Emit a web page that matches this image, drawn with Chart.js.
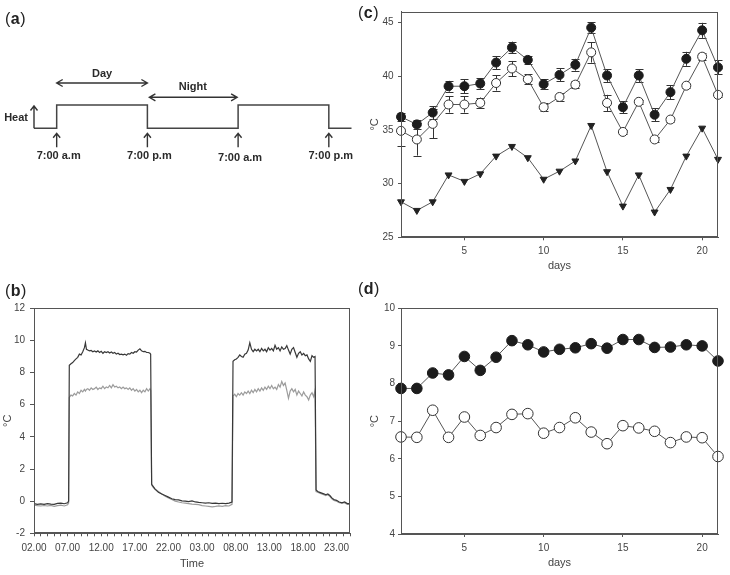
<!DOCTYPE html>
<html>
<head>
<meta charset="utf-8">
<script src="https://cdn.jsdelivr.net/npm/chart.js@4.4.1/dist/chart.umd.min.js"></script>
<style>
html,body{margin:0;padding:0;background:#fff;}
body{width:730px;height:575px;position:relative;overflow:hidden;}
canvas{position:absolute;display:block;}
</style>
</head>
<body>
<canvas id="chartA" width="360" height="180" style="left:0;top:0"></canvas>
<canvas id="chartB" width="360" height="295" style="left:0;top:280px"></canvas>
<canvas id="chartC" width="375" height="280" style="left:355px;top:0"></canvas>
<canvas id="chartD" width="375" height="295" style="left:355px;top:280px"></canvas>
<script>
// ================= DATA =================
// (a) schematic heating cycle
const schematicHours = [4, 7, 7, 19, 19, 31, 31, 43, 43, 46];
const schematicHeat  = [0, 0, 1, 1, 0, 0, 1, 1, 0, 0];
const switchHours  = [7, 19, 31, 43];
const switchLabels = ['7:00 a.m', '7:00 p.m', '7:00 a.m', '7:00 p.m'];
const periodLabels = ['Day', 'Night'];
const heatLabel = 'Heat';

// (b) temperature difference over time (hours since 02.00)
const timeTickLabels = ['02.00','07.00','12.00','17.00','22.00','03.00','08.00','13.00','18.00','23.00'];
const yTicksB = [-2, 0, 2, 4, 6, 8, 10, 12];
const hoursB = [0,0.5,1,1.5,2,2.5,3,3.5,4,4.5,5,5.15,
  5.25,5.5,5.75,6,6.25,6.5,6.75,7,7.25,7.5,7.65,7.8,8,8.25,8.5,8.75,9,9.25,9.5,9.75,10,10.25,10.5,10.75,11,11.25,11.5,11.75,12,12.25,12.5,12.75,13,13.25,13.5,13.75,14,14.25,14.5,14.75,15,15.25,15.5,15.75,16,16.25,16.5,16.75,17,17.25,17.35,
  17.5,17.75,18,18.5,19,19.5,20,20.5,21,21.5,22,22.5,23,23.5,24,24.5,25,25.5,26,26.5,27,27.5,28,28.5,29,29.45,
  29.6,29.85,30.1,30.35,30.6,30.85,31.1,31.35,31.6,31.85,32.1,32.35,32.6,32.85,33.1,33.35,33.6,33.85,34.1,34.35,34.6,34.85,35.1,35.35,35.6,35.85,36.1,36.35,36.6,36.85,37.1,37.35,37.6,37.85,38.1,38.35,38.6,38.85,39.1,39.35,39.6,39.85,40.1,40.35,40.6,40.85,41.1,41.35,41.6,41.8,
  41.95,42.2,42.5,42.8,43.1,43.4,43.7,44,44.3,44.6,45,45.4,45.8,46.2,46.6,47];
const darkB = [-0.15,-0.2,-0.17,-0.2,-0.15,-0.18,-0.2,-0.14,-0.12,-0.16,-0.1,0.0,
  8.45,8.55,8.62,8.75,8.85,8.95,9.15,9.1,9.3,9.55,9.85,9.45,9.4,9.35,9.38,9.3,9.35,9.28,9.35,9.25,9.32,9.2,9.3,9.25,9.3,9.22,9.28,9.2,9.25,9.15,9.2,9.12,9.15,9.1,9.15,9.08,9.18,9.15,9.25,9.2,9.3,9.28,9.4,9.48,9.35,9.3,9.32,9.25,9.25,9.2,9.15,
  1.05,0.9,0.75,0.55,0.45,0.35,0.25,0.15,0.1,0.08,0.02,0.0,-0.03,0.02,-0.05,-0.08,-0.1,-0.12,-0.1,-0.14,-0.12,-0.15,-0.13,-0.15,-0.12,-0.05,
  8.7,8.8,8.85,8.95,9.1,9.0,8.95,9.15,9.2,9.4,9.85,9.45,9.3,9.45,9.35,9.45,9.3,9.5,9.35,9.45,9.3,9.55,9.4,9.5,9.35,9.7,9.45,9.55,9.35,9.6,9.45,9.5,9.68,9.4,9.15,9.45,9.55,9.25,8.95,9.2,9.3,9.1,9.2,9.05,9.1,8.85,8.7,9.05,8.95,9.0,
  0.7,0.6,0.55,0.5,0.45,0.4,0.45,0.35,0.2,0.1,0.05,-0.05,-0.1,-0.05,-0.15,-0.15];
const grayB = [-0.25,-0.28,-0.3,-0.27,-0.3,-0.26,-0.32,-0.28,-0.25,-0.3,-0.22,-0.12,
  6.45,6.6,6.55,6.7,6.6,6.8,6.7,6.9,6.8,6.95,6.85,6.95,7.0,6.9,7.05,6.95,7.0,7.1,6.95,7.05,7.0,7.15,7.0,7.1,7.05,7.2,7.05,7.25,7.1,7.15,7.05,7.1,7.0,7.1,7.0,7.05,6.95,7.05,6.9,7.0,6.85,6.95,6.8,6.9,6.75,6.9,6.8,7.0,6.85,7.0,6.9,
  1.0,0.85,0.75,0.6,0.45,0.3,0.2,0.1,0.0,-0.05,-0.1,-0.12,-0.15,-0.18,-0.2,-0.22,-0.28,-0.3,-0.32,-0.35,-0.33,-0.3,-0.32,-0.28,-0.3,-0.2,
  6.55,6.65,6.5,6.7,6.6,6.75,6.6,6.8,6.7,6.85,6.7,6.9,6.75,6.95,6.8,7.0,6.85,7.05,6.9,7.1,6.95,7.15,7.0,7.2,7.0,7.1,6.95,7.25,7.1,7.45,7.2,7.35,6.9,6.4,6.85,7.0,6.8,6.95,6.6,6.85,6.7,6.55,6.8,6.6,6.5,6.3,6.6,6.75,6.5,6.9,
  0.6,0.55,0.5,0.45,0.4,0.35,0.4,0.3,0.15,0.05,0.0,-0.1,-0.12,-0.1,-0.2,-0.2];

// (c) daily temperatures
const days = [1,2,3,4,5,6,7,8,9,10,11,12,13,14,15,16,17,18,19,20,21];
const dayTicks = [5, 10, 15, 20];
const yTicksC = [25, 30, 35, 40, 45];
const heatFilled    = [36.2,35.5,36.6,39.05,39.05,39.3,41.25,42.65,41.5,39.25,40.1,41.05,44.5,40.05,37.1,40.05,36.4,38.5,41.6,44.25,40.8];
const heatFilledErr = [0.4,0.4,0.6,0.5,0.65,0.5,0.6,0.55,0.4,0.45,0.6,0.55,0.5,0.6,0.55,0.6,0.6,0.65,0.65,0.7,0.65];
const heatOpen      = [34.9,34.1,35.55,37.35,37.35,37.5,39.35,40.7,39.7,37.1,38.05,39.2,42.2,37.5,34.8,37.6,34.1,35.95,39.1,41.8,38.25];
const heatOpenErr   = [1.4,1.5,1.35,0.75,0.75,0.5,0.7,0.7,0.45,0.35,0.35,0.3,0.95,0.75,0.2,0.2,0.2,0.2,0.2,0.3,0.2];
const ambientTemp   = [28.3,27.5,28.3,30.8,30.2,30.9,32.55,33.45,32.4,30.4,31.15,32.1,35.4,31.1,27.9,30.8,27.35,29.45,32.55,35.15,32.25];

// (d) daily temperature differences
const yTicksD = [4, 5, 6, 7, 8, 9, 10];
const diffFilled = [7.87,7.87,8.28,8.23,8.72,8.35,8.70,9.14,9.03,8.84,8.91,8.95,9.06,8.94,9.17,9.17,8.96,8.97,9.03,9.0,8.6];
const diffOpen   = [6.58,6.57,7.29,6.57,7.11,6.62,6.83,7.18,7.2,6.68,6.83,7.09,6.71,6.40,6.88,6.82,6.73,6.43,6.58,6.56,6.06];

// ================= STYLE / PLUGINS =================
const FONT = "'Liberation Sans', Arial, Helvetica, sans-serif";
Chart.defaults.font.family = FONT;
Chart.defaults.color = '#444';
Chart.defaults.animation = false;

const framePlugin = {
  id: 'frame',
  afterDraw(chart, args, opts) {
    if (!opts || !opts.on) return;
    const {ctx, chartArea: a} = chart;
    ctx.save();
    ctx.strokeStyle = '#555';
    ctx.lineWidth = 1;
    const l = Math.round(a.left) + 0.5, t = Math.round(a.top) + 0.5;
    const r = Math.round(a.right) - 0.5, b = Math.round(a.bottom) - 0.5;
    ctx.strokeRect(l, t, r - l, b - t);
    ctx.restore();
  }
};

const panelLabelPlugin = {
  id: 'panelLabel',
  afterDraw(chart, args, opts) {
    if (!opts || !opts.letter) return;
    const ctx = chart.ctx;
    ctx.save();
    ctx.fillStyle = '#222';
    ctx.textBaseline = 'middle';
    ctx.textAlign = 'left';
    let x = opts.x;
    ctx.font = '16px ' + FONT;
    ctx.fillText('(', x, opts.y); x += ctx.measureText('(').width + 0.5;
    ctx.font = 'bold 16px ' + FONT;
    ctx.fillText(opts.letter, x, opts.y); x += ctx.measureText(opts.letter).width + 0.5;
    ctx.font = '16px ' + FONT;
    ctx.fillText(')', x, opts.y);
    ctx.restore();
  }
};

const errorBarPlugin = {
  id: 'errorBars',
  beforeDatasetsDraw(chart) {
    const {ctx, scales: {x, y}} = chart;
    ctx.save();
    ctx.strokeStyle = '#333';
    ctx.lineWidth = 1;
    chart.data.datasets.forEach(ds => {
      if (!ds.errors) return;
      ds.data.forEach((p, i) => {
        const e = ds.errors[i];
        const px = Math.round(x.getPixelForValue(p.x)) + 0.5;
        const y1 = y.getPixelForValue(p.y + e), y2 = y.getPixelForValue(p.y - e);
        ctx.beginPath();
        ctx.moveTo(px, y1); ctx.lineTo(px, y2);
        ctx.moveTo(px - 4, Math.round(y1) + 0.5); ctx.lineTo(px + 4, Math.round(y1) + 0.5);
        ctx.moveTo(px - 4, Math.round(y2) + 0.5); ctx.lineTo(px + 4, Math.round(y2) + 0.5);
        ctx.stroke();
      });
    });
    ctx.restore();
  }
};

function vArrow(ctx, x, yFrom, yTo) {
  ctx.beginPath();
  ctx.moveTo(x, yFrom); ctx.lineTo(x, yTo);
  ctx.moveTo(x - 3.5, yTo + 4.5); ctx.lineTo(x, yTo); ctx.lineTo(x + 3.5, yTo + 4.5);
  ctx.stroke();
}
function hArrow(ctx, x1, x2, yy) {
  ctx.beginPath();
  ctx.moveTo(x1, yy); ctx.lineTo(x2, yy);
  ctx.moveTo(x1 + 6, yy - 3.5); ctx.lineTo(x1, yy); ctx.lineTo(x1 + 6, yy + 3.5);
  ctx.moveTo(x2 - 6, yy - 3.5); ctx.lineTo(x2, yy); ctx.lineTo(x2 - 6, yy + 3.5);
  ctx.stroke();
}

const schematicPlugin = {
  id: 'schematic',
  afterDatasetsDraw(chart) {
    const {ctx, scales: {x, y}} = chart;
    const low = y.getPixelForValue(0), high = y.getPixelForValue(1);
    ctx.save();
    ctx.strokeStyle = '#333';
    ctx.fillStyle = '#2a2a2a';
    ctx.lineWidth = 1.4;
    ctx.font = 'bold 11px ' + FONT;
    ctx.textBaseline = 'middle';
    const x0 = x.getPixelForValue(schematicHours[0]);
    vArrow(ctx, x0, low, high + 1);
    ctx.textAlign = 'right';
    ctx.fillText(heatLabel, x0 - 6, (low + high) / 2 + 1);
    ctx.textAlign = 'center';
    switchHours.forEach((h, i) => {
      const px = x.getPixelForValue(h);
      vArrow(ctx, px, low + 19, low + 5);
      ctx.fillText(switchLabels[i], px + 2, low + 28 + (i === 2 ? 2 : 0));
    });
    const d0 = x.getPixelForValue(switchHours[0]);
    const d1 = x.getPixelForValue(switchHours[1]);
    const d2 = x.getPixelForValue(switchHours[2]);
    hArrow(ctx, d0, d1, high - 22);
    ctx.fillText(periodLabels[0], (d0 + d1) / 2, high - 31);
    hArrow(ctx, d1 + 2, d2 - 1, low - 31);
    ctx.fillText(periodLabels[1], (d1 + d2) / 2, low - 41);
    ctx.restore();
  }
};

function setTicks(list) { return s => { s.ticks = list.map(v => ({value: v})); }; }
function xAxis(min, max, tickList, cb, title, height, tickPad, titlePadBottom) {
  return {
    type: 'linear', min, max,
    afterBuildTicks: setTicks(tickList),
    afterFit: s => { s.height = height; },
    ticks: {autoSkip: false, maxRotation: 0, minRotation: 0, font: {size: 10}, color: '#444', padding: tickPad, callback: cb},
    grid: {drawOnChartArea: false, drawTicks: true, tickLength: 3, color: '#555'},
    border: {display: true, color: '#555'},
    title: {display: true, text: title, font: {size: 11}, color: '#444', padding: {top: 0, bottom: titlePadBottom}}
  };
}
function yAxis(min, max, tickList, width, tickLen, tickPad, titlePadTop) {
  return {
    type: 'linear', min, max,
    afterBuildTicks: setTicks(tickList),
    afterFit: s => { s.width = width; },
    ticks: {font: {size: 10}, color: '#444', padding: tickPad, callback: v => String(v)},
    grid: {drawOnChartArea: false, drawTicks: true, tickLength: tickLen, color: '#555'},
    border: {display: true, color: '#555'},
    title: {display: true, text: '°C', font: {size: 11}, color: '#444', padding: {top: titlePadTop, bottom: 0}}
  };
}
const basePlugins = {legend: {display: false}, tooltip: {enabled: false}};

// ================= (a) =================
new Chart(document.getElementById('chartA'), {
  type: 'line',
  data: {datasets: [{
    data: schematicHours.map((h, i) => ({x: h, y: schematicHeat[i]})),
    borderColor: '#444', borderWidth: 1.5, pointRadius: 0, clip: false
  }]},
  options: {
    responsive: false, animation: false,
    layout: {padding: {left: 34, right: 8.5, top: 105, bottom: 51.7}},
    plugins: Object.assign({}, basePlugins, {panelLabel: {letter: 'a', x: 5, y: 20}}),
    scales: {
      x: {type: 'linear', min: 4, max: 46, display: false},
      y: {type: 'linear', min: 0, max: 1, display: false}
    }
  },
  plugins: [schematicPlugin, panelLabelPlugin]
});

// ================= (b) =================
const hourTicks = [];
for (let h = 0; h <= 47; h++) hourTicks.push(h);
new Chart(document.getElementById('chartB'), {
  type: 'line',
  data: {datasets: [
    {data: hoursB.map((h, i) => ({x: h, y: darkB[i]})), borderColor: '#383838', borderWidth: 1.2, pointRadius: 0},
    {data: hoursB.map((h, i) => ({x: h, y: grayB[i]})), borderColor: '#9c9c9c', borderWidth: 1.2, pointRadius: 0}
  ]},
  options: {
    responsive: false, animation: false,
    layout: {padding: {left: 0, right: 10, top: 28.3, bottom: 0}},
    plugins: Object.assign({}, basePlugins, {frame: {on: true}, panelLabel: {letter: 'b', x: 5, y: 12}}),
    scales: {
      x: xAxis(0, 47, hourTicks, v => (v % 5 === 0 ? timeTickLabels[v / 5] : ''), 'Time', 41.7, 6, 4.1),
      y: yAxis(-2, 12, yTicksB, 34, 4, 5, 1.7)
    }
  },
  plugins: [framePlugin, panelLabelPlugin]
});

// ================= (c) =================
new Chart(document.getElementById('chartC'), {
  type: 'line',
  data: {datasets: [
    {data: days.map((d, i) => ({x: d, y: heatFilled[i]})), errors: heatFilledErr, clip: false,
     borderColor: '#555', borderWidth: 1, pointRadius: 4.5, pointBackgroundColor: '#1c1c1c', pointBorderColor: '#1c1c1c', pointBorderWidth: 1},
    {data: days.map((d, i) => ({x: d, y: heatOpen[i]})), errors: heatOpenErr, clip: false,
     borderColor: '#555', borderWidth: 1, pointRadius: 4.5, pointBackgroundColor: '#fff', pointBorderColor: '#333', pointBorderWidth: 1},
    {data: days.map((d, i) => ({x: d, y: ambientTemp[i]})), clip: false,
     borderColor: '#555', borderWidth: 1, pointStyle: 'triangle', rotation: 180, pointRadius: 4, pointBackgroundColor: '#222', pointBorderColor: '#222', pointBorderWidth: 1}
  ]},
  options: {
    responsive: false, animation: false,
    layout: {padding: {left: 0, right: 12, top: 11.5, bottom: 0}},
    plugins: Object.assign({}, basePlugins, {frame: {on: true}, panelLabel: {letter: 'c', x: 3, y: 14}}),
    scales: {
      x: xAxis(1, 21, dayTicks, v => String(v), 'days', 42.7, 5, 7.4),
      y: yAxis(25, 46, yTicksC, 46, 3, 4.5, 13.4)
    }
  },
  plugins: [errorBarPlugin, framePlugin, panelLabelPlugin]
});

// ================= (d) =================
new Chart(document.getElementById('chartD'), {
  type: 'line',
  data: {datasets: [
    {data: days.map((d, i) => ({x: d, y: diffFilled[i]})), clip: false,
     borderColor: '#555', borderWidth: 1, pointRadius: 5.3, pointBackgroundColor: '#1c1c1c', pointBorderColor: '#1c1c1c', pointBorderWidth: 1},
    {data: days.map((d, i) => ({x: d, y: diffOpen[i]})), clip: false,
     borderColor: '#555', borderWidth: 1, pointRadius: 5.3, pointBackgroundColor: '#fff', pointBorderColor: '#333', pointBorderWidth: 1}
  ]},
  options: {
    responsive: false, animation: false,
    layout: {padding: {left: 0, right: 12, top: 28.3, bottom: 0}},
    plugins: Object.assign({}, basePlugins, {frame: {on: true}, panelLabel: {letter: 'd', x: 3, y: 10}}),
    scales: {
      x: xAxis(1, 21, dayTicks, v => String(v), 'days', 41, 5, 5.1),
      y: yAxis(4, 10, yTicksD, 46, 3, 3, 13.4)
    }
  },
  plugins: [framePlugin, panelLabelPlugin]
});
</script>
</body>
</html>
